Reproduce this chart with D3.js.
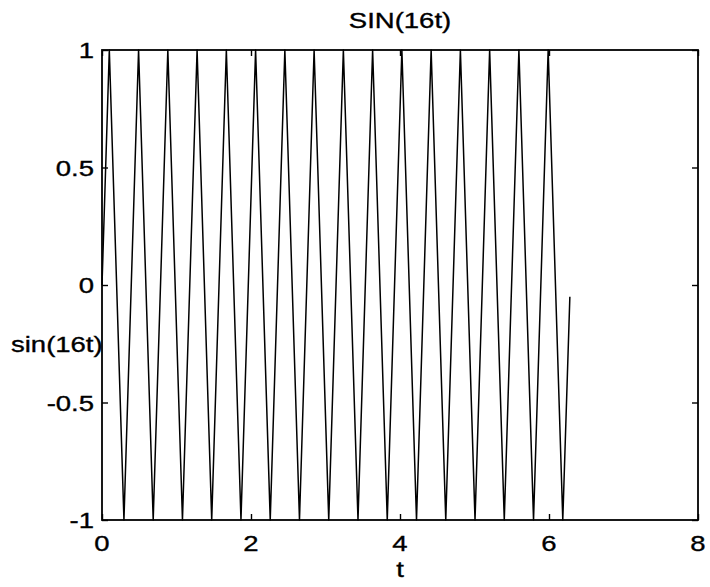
<!DOCTYPE html>
<html>
<head>
<meta charset="utf-8">
<script src="https://cdn.jsdelivr.net/npm/d3@7/dist/d3.min.js"></script>
<style>
  html, body { margin: 0; padding: 0; background: #fff; }
  svg { display: block; }
  text { font-family: "Liberation Sans", Arial, Helvetica, sans-serif; fill: #000; stroke: #000; stroke-width: 0.35px; }
</style>
</head>
<body>
<svg id="chart" width="710" height="587"></svg>
<script>
// Vertices of the plotted trace: start, alternating crests/troughs, end
const tValues = [0, 0.0982, 0.2945, 0.4909, 0.6872, 0.8836, 1.0799, 1.2763, 1.4726,
  1.6690, 1.8653, 2.0617, 2.2580, 2.4544, 2.6507, 2.8471, 3.0434, 3.2398, 3.4361,
  3.6325, 3.8288, 4.0252, 4.2215, 4.4179, 4.6142, 4.8106, 5.0069, 5.2033, 5.3996,
  5.5960, 5.7923, 5.9887, 6.1850, 6.2800];
const sinValues = [0, 1, -1, 1, -1, 1, -1, 1, -1, 1, -1, 1, -1, 1, -1, 1, -1,
  1, -1, 1, -1, 1, -1, 1, -1, 1, -1, 1, -1, 1, -1, 1, -1, -0.05];

const xTicks = [0, 2, 4, 6, 8];
const yTicks = [-1, -0.5, 0, 0.5, 1];
const xTickLabels = ["0", "2", "4", "6", "8"];
const yTickLabels = ["-1", "-0.5", "0", "0.5", "1"];

const titleText = "SIN(16t)";
const xLabelText = "t";
const yLabelText = "sin(16t)";

const svg = d3.select("#chart");
const plotL = 102, plotR = 698, plotT = 50, plotB = 520;
const sx = 1.25; // horizontal stretch of the lettering

const x = d3.scaleLinear().domain([0, 8]).range([plotL, plotR]);
const y = d3.scaleLinear().domain([-1, 1]).range([plotB, plotT]);

// Inward ticks on all four sides
const tick = 6;
function styleAxis(g) {
  g.select(".domain").remove();
  g.selectAll(".tick line").attr("stroke", "#000").attr("stroke-width", 1.4);
  g.selectAll(".tick text").remove();
}
svg.append("g").attr("transform", `translate(0,${plotB})`)
  .call(d3.axisBottom(x).tickValues(xTicks).tickSize(-tick)).call(styleAxis);
svg.append("g").attr("transform", `translate(0,${plotT})`)
  .call(d3.axisTop(x).tickValues(xTicks).tickSize(-tick)).call(styleAxis);
svg.append("g").attr("transform", `translate(${plotL},0)`)
  .call(d3.axisLeft(y).tickValues(yTicks).tickSize(-tick)).call(styleAxis);
svg.append("g").attr("transform", `translate(${plotR},0)`)
  .call(d3.axisRight(y).tickValues(yTicks).tickSize(-tick)).call(styleAxis);

// Trace
const data = tValues.map((t, i) => [t, sinValues[i]]);
svg.append("path")
  .datum(data)
  .attr("fill", "none")
  .attr("stroke", "#000")
  .attr("stroke-width", 1.5)
  .attr("stroke-linejoin", "round")
  .attr("d", d3.line().x(d => x(d[0])).y(d => y(d[1])));

// Frame
svg.append("rect")
  .attr("x", plotL).attr("y", plotT)
  .attr("width", plotR - plotL).attr("height", plotB - plotT)
  .attr("fill", "none").attr("stroke", "#000").attr("stroke-width", 1.8);

function label(txt, px, py, anchor, size) {
  svg.append("text")
    .attr("transform", `translate(${px},${py}) scale(${sx},1)`)
    .attr("text-anchor", anchor)
    .style("font-size", size + "px")
    .text(txt);
}

xTicks.forEach((v, i) => label(xTickLabels[i], x(v), 551, "middle", 22));
yTicks.forEach((v, i) => label(yTickLabels[i], 94, y(v) + 8, "end", 22));

label(titleText, (plotL + plotR) / 2, 28, "middle", 22);
label(xLabelText, (plotL + plotR) / 2, 577, "middle", 22);
label(yLabelText, 11, 352, "start", 22);
</script>
</body>
</html>
